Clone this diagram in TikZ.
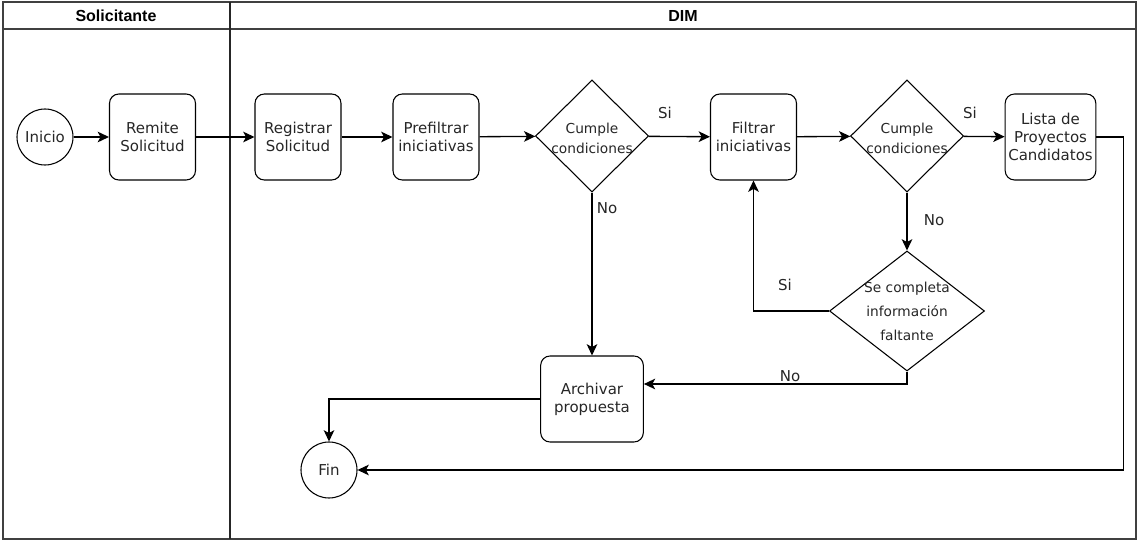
\documentclass[tikz,border=0pt]{standalone}
\usepackage{fontspec}
\setmainfont{DejaVu Sans}
\newfontfamily\lanefont{Liberation Sans}
\usetikzlibrary{arrows.meta, positioning, shapes.geometric}

\tikzset{
  proc/.style={draw, rounded corners=7pt, line width=0.8pt, minimum width=64.5pt, minimum height=64.5pt,
    align=center, inner sep=1pt, text=black!85, font=\fontsize{11.25}{13.5}\selectfont},
  ends/.style={draw, circle, line width=0.8pt, minimum size=42pt, inner sep=0pt,
    text=black!85, font=\fontsize{11.25}{13.5}\selectfont},
  decide/.style={draw, diamond, line width=0.8pt, inner sep=0pt},
  dtext/.style={align=center, text=black!85, font=\fontsize{10.3}{15}\selectfont},
  flow/.style={-{Stealth[length=8.5pt,width=8pt,inset=2.2pt]}, line width=1pt},
  lbl/.style={text=black!85, font=\fontsize{11.25}{13.5}\selectfont},
  lanehead/.style={font=\lanefont\bfseries\fontsize{12}{14}\selectfont},
}

\begin{document}
\begin{tikzpicture}[x=0.75pt, y=-0.75pt]
    \useasboundingbox (0,0) rectangle (1138,541);

    % Lanes
    \draw[line width=1pt, black!75] (3,2) rectangle (1136,539);
    \draw[line width=1pt, black!75] (3,29) -- (1136,29);  % header line
    \draw[line width=1pt, black!85] (230,2) -- (230,539);  % lane divider
    \node[lanehead] (solhead) at (116,16) {Solicitante};
    \node[lanehead] (dimhead) at (683,16) {DIM};

    % Solicitante
    \node[ends] (inicio) at (45,137) {Inicio};
    \node[proc] (remite) at (152.5,137) {Remite\\Solicitud};

    % DIM
    \node[proc] (registrar) at (298,137) {Registrar\\Solicitud};
    \node[proc] (prefiltrar) at (436,137) {Prefiltrar\\iniciativas};
    \node[decide, minimum width=84.75pt, minimum height=84pt,
      label={[dtext, yshift=-1.5pt]center:{Cumple\\condiciones}}] (cumple1) at (592,136) {};
    \node[proc] (filtrar) at (753.5,137) {Filtrar\\iniciativas};
    \node[decide, minimum width=84.75pt, minimum height=84pt,
      label={[dtext, yshift=-1.5pt]center:{Cumple\\condiciones}}] (cumple2) at (907,136) {};
    \node[proc, minimum width=68pt] (lista) at (1050.5,137) {Lista de\\Proyectos\\Candidatos};
    \node[decide, minimum width=116.25pt, minimum height=90pt,
      label={[dtext, font=\fontsize{10.3}{18}\selectfont]center:{Se completa\\información\\faltante}}] (completa) at (907,311) {};
    \node[proc, minimum width=77pt] (archivar) at (592,399) {Archivar\\propuesta};
    \node[ends] (fin) at (329,470) {Fin};

    % Connectors
    \draw[flow] (inicio) -- (remite);
    \draw[flow] (remite) -- (registrar);
    \draw[flow] (registrar) -- (prefiltrar);
    \draw[flow] (prefiltrar) -- (cumple1);
    \draw[flow] (cumple1) -- (filtrar);
    \draw[flow] (filtrar) -- (cumple2);
    \draw[flow] (cumple2) -- (lista);
    \draw[flow] (cumple1.south) -- (archivar.north);
    \draw[flow] (cumple2.south) -- (completa.north);
    \draw[flow] (completa.west) -| (filtrar.south);
    \coordinate (archin) at ([yshift=11.25pt]archivar.east);
    \draw[flow] (completa.south) |- (archin);
    \draw[flow] (archivar.west) -| (fin.north);
    \draw[flow] (lista.east) -- ++(27,0) |- (fin.east);

    % Labels
    \node[lbl] (si1) at (665,113) {Si};
    \node[lbl] (no1) at (607,208) {No};
    \node[lbl] (si2) at (970,113) {Si};
    \node[lbl] (no2) at (934,220) {No};
    \node[lbl] (si3) at (785,285) {Si};
    \node[lbl] (no3) at (790,376) {No};
\end{tikzpicture}
\end{document}
